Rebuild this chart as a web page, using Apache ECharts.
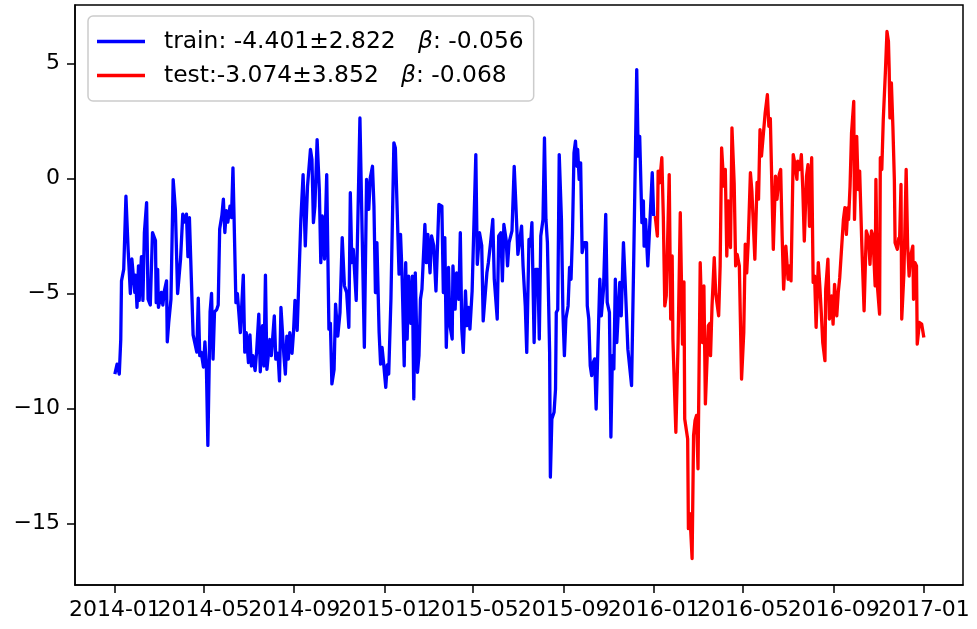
<!DOCTYPE html>
<html>
<head>
<meta charset="utf-8">
<script src="https://cdn.jsdelivr.net/npm/echarts@6/dist/echarts.min.js"></script>
<style>
html,body{margin:0;padding:0;background:#fff;}
#chart{width:977px;height:629px;}
</style>
</head>
<body>
<div id="chart"></div>
<script>
// Days since 2014-01-01
const trainDays = [0,3,6,8,9,12,15,18,21,23,27,28,30,32,33,36,38,40,43,45,48,51,55,56,58,59,63,65,67,70,71,73,76,79,82,85,89,92,94,97,99,101,106,111,113,115,117,120,122,124,126,129,131,133,135,138,140,142,145,147,149,151,153,156,158,160,164,166,168,170,174,176,178,181,183,185,187,190,192,195,197,200,202,204,206,210,212,216,218,221,223,225,229,231,233,235,237,240,242,244,247,249,252,255,258,261,265,267,269,271,274,277,279,281,284,287,290,292,294,297,299,302,305,308,311,314,317,319,321,323,327,332,335,338,341,344,346,349,351,353,355,358,360,362,364,367,369,371,374,378,380,385,387,389,392,394,396,398,401,403,405,407,410,412,414,416,420,422,424,427,429,432,435,439,443,445,447,449,452,454,457,458,461,463,466,468,470,472,475,477,479,481,484,486,489,491,494,497,499,501,504,506,509,512,514,518,520,523,525,527,530,532,534,538,541,543,546,548,551,553,556,558,561,563,565,568,570,573,575,577,580,582,584,586,589,590,592,595,597,598,600,602,605,607,609,611,614,616,618,620,622,624,626,627,629,631,633,636,639,640,642,644,646,648,650,652,654,657,659,662,665,667,670,672,674,676,678,680,682,684,686,689,691,695,700,703,707,709,711,714,716,717,719,722,725,728,730];
const trainValues = [-8.5,-8.07,-8.5,-7.0,-4.45,-3.95,-0.77,-3.1,-5.0,-3.5,-4.95,-4.2,-5.6,-3.8,-5.3,-3.4,-5.3,-2.35,-1.05,-5.25,-5.5,-2.35,-2.7,-5.4,-3.95,-5.6,-4.95,-5.5,-4.9,-4.45,-7.1,-6.25,-5.25,-0.05,-1.35,-5.0,-3.5,-1.55,-1.9,-1.55,-3.4,-1.7,-6.8,-7.55,-5.2,-7.7,-7.55,-8.2,-7.1,-8.2,-11.6,-5.8,-5.0,-7.85,-5.8,-5.7,-5.5,-2.2,-1.6,-0.9,-2.35,-1.4,-1.9,-1.2,-1.7,0.46,-5.4,-5.0,-5.0,-6.7,-4.2,-7.55,-6.7,-8.0,-6.8,-8.15,-7.7,-8.35,-7.55,-5.9,-8.4,-6.4,-8.15,-4.2,-8.3,-7.0,-7.7,-5.97,-7.85,-7.6,-8.8,-5.6,-7.7,-8.5,-6.85,-7.85,-6.7,-7.6,-6.7,-5.3,-6.6,-4.67,-1.78,0.17,-2.93,-0.33,1.26,0.82,-1.92,-1.2,1.69,-0.48,-3.66,-1.63,-3.5,0.17,-6.55,-6.3,-8.93,-8.3,-5.46,-6.85,-5.83,-2.57,-4.67,-4.95,-6.47,-0.62,-3.66,-3.08,-5.3,2.63,-2.36,-7.34,-0.04,-1.34,0.03,0.53,-1.2,-4.96,-2.79,-6.69,-8.07,-7.34,-8.0,-9.08,-8.1,-8.5,-5.25,1.55,1.33,-4.16,-2.43,-4.1,-8.14,-3.66,-6.98,-4.25,-6.3,-4.25,-9.58,-4.1,-8.43,-7.7,-5.25,-4.82,-2.0,-3.66,-2.43,-4.1,-2.5,-2.92,-4.89,-1.13,-1.2,-4.96,-2.57,-7.34,-3.87,-6.4,-6.98,-3.8,-5.68,-4.1,-5.25,-2.36,-6.55,-7.56,-4.89,-6.4,-5.6,-6.55,-4.89,-2.5,1.04,-3.73,-2.36,-2.92,-6.19,-6.26,-4.1,-3.66,-2.79,-1.78,-4.38,-6.11,-2.5,-2.36,-4.45,-2.0,-2.65,-3.8,-2.79,-2.28,0.53,-0.94,-3.3,-3.22,-2.07,-3.8,-5.54,-7.56,-2.65,-2.94,-1.92,-7.13,-3.95,-3.95,-6.98,-2.5,-1.78,1.76,-1.78,-2.79,-7.56,-12.98,-10.45,-10.16,-9.15,-5.83,-5.7,1.04,-1.78,-5.83,-7.7,-6.1,-5.54,-3.87,-4.38,-2.36,1.11,1.62,0.53,1.26,-0.04,0.68,-3.22,-2.79,-2.79,-5.54,-6.1,-8.14,-8.57,-8.0,-7.84,-10.02,-7.84,-4.38,-5.97,-4.81,-1.56,-5.39,-5.82,-11.24,-7.7,-8.28,-4.38,-7.13,-5.82,-4.52,-5.97,-2.79,-4.24,-7.42,-9.0,-3.37,4.73,0.97,1.83,-1.92,-0.98,-2.94,-1.78,-3.8,-1.78,0.25,-1.63];
const testDays = [732,735,736,738,741,743,745,747,751,753,755,756,760,763,766,769,771,772,776,777,779,782,784,786,788,790,793,796,798,800,804,806,807,809,812,814,818,820,822,825,827,829,831,834,836,839,841,843,846,849,852,854,856,858,861,863,865,867,870,872,874,876,878,881,884,886,888,892,895,897,900,902,904,906,909,912,914,916,919,921,924,925,928,930,932,934,937,939,941,944,946,948,950,953,955,957,959,962,963,966,968,971,973,975,978,980,982,984,987,989,991,993,994,996,998,1001,1002,1005,1007,1009,1012,1015,1018,1021,1023,1025,1027,1030,1031,1033,1036,1037,1039,1041,1044,1046,1048,1049,1050,1052,1054,1056,1057,1060,1062,1063,1065,1066,1069,1072,1074,1076,1078,1081,1082,1084,1086,1087,1090,1093,1096];
const testValues = [-1.63,-2.5,0.32,-0.19,0.9,-1.63,-5.54,-5.1,0.17,-6.11,-3.37,-6.98,-11.03,-7.13,-1.49,-7.2,-4.5,-10.45,-11.32,-15.22,-14.57,-16.52,-11.17,-10.52,-10.3,-12.62,-3.66,-7.13,-4.67,-9.8,-6.4,-6.3,-7.7,-5.54,-3.44,-5.0,-5.97,-3.8,1.33,-0.33,0.39,-3.37,-0.98,-3.0,2.2,-0.2,-3.8,-3.3,-3.8,-8.72,-6.69,-2.86,-4.1,-2.79,0.25,-0.55,-0.6,-3.51,-0.17,-0.9,2.12,0.97,0.97,2.85,3.64,2.27,2.6,-3.08,0.1,-0.91,0.17,0.39,-2.5,-4.81,-2.94,-4.38,-3.8,-4.45,1.04,0.68,-0.04,0.75,0.39,1.04,-0.48,-2.72,0.1,0.6,-2.08,0.9,-4.52,-4.24,-6.47,-3.66,-4.67,-5.83,-7.13,-7.92,-4.81,-3.51,-6.11,-5.1,-6.33,-4.6,-5.97,-4.96,-4.31,-4.38,-1.78,-1.27,-2.43,-1.27,-1.78,-0.33,1.98,3.35,-1.78,1.83,-0.48,0.32,-2.94,-5.75,-2.28,-2.6,-3.73,-2.28,-2.5,-4.67,-0.04,-4.67,-5.9,0.9,0.39,2.56,4.73,6.39,5.95,4.73,2.63,4.15,2.27,-0.04,-2.79,-3.08,-2.6,-2.79,-0.26,-6.11,-4.09,0.39,-2.94,-4.24,-3.37,-2.94,-5.25,-3.66,-3.8,-7.2,-6.26,-6.33,-6.91];

const trainName = 'train: -4.401±2.822   β: -0.056';
const testName = 'test:-3.074±3.852   β: -0.068';
const xTickLabels = ['2014-01','2014-05','2014-09','2015-01','2015-05','2015-09','2016-01','2016-05','2016-09','2017-01'];
const yTicks = [-15,-10,-5,0,5];

const DAY = 86400000;
const T0 = Date.UTC(2014,0,1);
const toTs = d => T0 + d * DAY;
const trainData = trainDays.map((d,i) => [toTs(d), trainValues[i]]);
const testData = testDays.map((d,i) => [toTs(d), testValues[i]]);
const xTickTs = xTickLabels.map(s => Date.UTC(+s.slice(0,4), +s.slice(5,7)-1, 1));
const tickLabelMap = {};
xTickTs.forEach((t,i) => { tickLabelMap[t] = xTickLabels[i]; });
// the tick labels touch each other, so they are split over two overlaid axes
const xTickEven = xTickTs.filter((t,i) => i % 2 === 0);
const xTickOdd = xTickTs.filter((t,i) => i % 2 === 1);

const FONT = 'DejaVu Sans';
const FS = 22;
const LFS = 23.4;
const X_MIN = T0 - 54 * DAY;
const X_MAX = Date.UTC(2017,0,1) + 53 * DAY;

function xAxisDef(labelValues, showLineAndTicks) {
  return {
    type: 'value',
    position: 'bottom',
    min: X_MIN,
    max: X_MAX,
    splitLine: {show: false},
    axisLine: {show: showLineAndTicks, onZero: false, lineStyle: {color: '#000', width: 1.5}},
    axisTick: {show: showLineAndTicks, length: 8, lineStyle: {color: '#000', width: 1.5}, customValues: xTickTs},
    axisLabel: {
      customValues: labelValues,
      interval: 0,
      hideOverlap: false,
      margin: 14,
      color: '#000',
      fontFamily: FONT,
      fontSize: FS,
      formatter: v => tickLabelMap[v] || ''
    }
  };
}

const chart = echarts.init(document.getElementById('chart'), null, {renderer:'canvas'});
chart.setOption({
  animation: false,
  backgroundColor: '#ffffff',
  grid: {left: 75, right: 14, top: 5, bottom: 44, show: true, borderColor: '#000', borderWidth: 1.5, containLabel: false},
  xAxis: [xAxisDef(xTickEven, true), xAxisDef(xTickOdd, false)],
  yAxis: {
    type: 'value',
    min: -17.67,
    max: 7.54,
    splitLine: {show: false},
    axisLine: {show: true, onZero: false, lineStyle: {color: '#000', width: 1.5}},
    axisTick: {show: true, length: 8, lineStyle: {color: '#000', width: 1.5}, customValues: yTicks},
    axisLabel: {
      customValues: yTicks,
      margin: 15,
      color: '#000',
      fontFamily: FONT,
      fontSize: FS,
      formatter: v => String(v).replace('-', '\u2212')
    }
  },
  legend: {
    orient: 'vertical',
    left: 88,
    top: 16,
    padding: [14, 10, 14, 9],
    itemWidth: 48,
    itemHeight: 3.3,
    itemGap: 11,
    icon: 'rect',
    backgroundColor: 'rgba(255,255,255,0.8)',
    borderColor: '#cccccc',
    borderWidth: 1.5,
    borderRadius: 5,
    textStyle: {
      color: '#000',
      fontFamily: FONT,
      fontSize: LFS,
      lineHeight: 22,
      padding: [0, 0, 0, 14],
      rich: {
        b: {fontStyle: 'italic', fontFamily: FONT, fontSize: LFS, color: '#000'}
      }
    },
    formatter: name => name.replace('β', '{b|β}'),
    data: [trainName, testName]
  },
  series: [
    {
      name: trainName,
      type: 'line',
      xAxisIndex: 0,
      data: trainData,
      showSymbol: false,
      symbol: 'none',
      color: '#0000ff',
      lineStyle: {color: '#0000ff', width: 3.3, join: 'round'}
    },
    {
      name: testName,
      type: 'line',
      xAxisIndex: 0,
      data: testData,
      showSymbol: false,
      symbol: 'none',
      color: '#ff0000',
      lineStyle: {color: '#ff0000', width: 3.3, join: 'round'}
    }
  ]
});
</script>
</body>
</html>
